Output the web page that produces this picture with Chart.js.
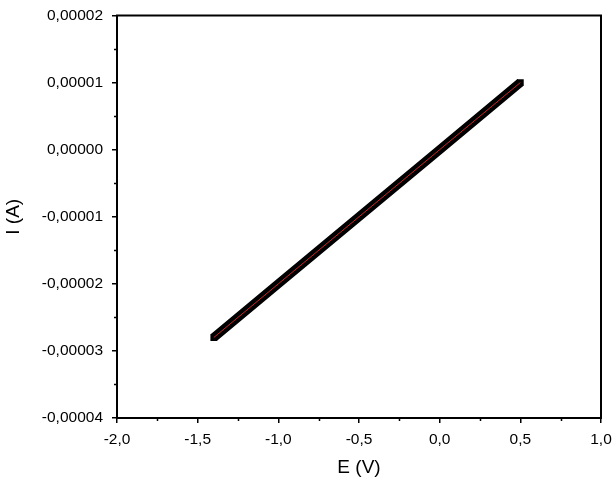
<!DOCTYPE html>
<html>
<head>
<meta charset="utf-8">
<script src="https://cdn.jsdelivr.net/npm/chart.js@4.4.1/dist/chart.umd.min.js"></script>
<style>
  html, body { margin: 0; padding: 0; background: #fff; }
  #wrap { width: 615px; height: 477px; }
</style>
</head>
<body>
<div id="wrap"><canvas id="grafica"></canvas></div>
<script>
// Curva I-E (lectura de la imagen)
const potencial = [-1.4, -1.0, -0.5, 0.0, 0.5]
const corriente = [-0.000028, -0.00002, -0.00001, 0.0, 0.00001]

const xTicks = [-2.0, -1.5, -1.0, -0.5, 0.0, 0.5, 1.0]
const yTicks = [-0.00004, -0.00003, -0.00002, -0.00001, 0.0, 0.00001, 0.00002]

const puntos = potencial.map((e, i) => ({ x: e, y: corriente[i] }))
const coma = (v, d) => v.toFixed(d).replace('.', ',')
const extremo = ctx => (ctx.dataIndex === 0 || ctx.dataIndex === puntos.length - 1) ? 4.8 : 0

// marco y ticks menores
const marco = {
  id: 'marco',
  afterDraw(chart) {
    const ctx = chart.ctx
    const a = chart.chartArea
    const sx = chart.scales.x, sy = chart.scales.y
    ctx.save()
    ctx.strokeStyle = '#000'
    ctx.lineWidth = 1.5
    ctx.beginPath()
    for (let i = 0; i < xTicks.length - 1; i++) {
      const px = Math.round(sx.getPixelForValue((xTicks[i] + xTicks[i + 1]) / 2)) + 0.5
      ctx.moveTo(px, a.bottom); ctx.lineTo(px, a.bottom + 3)
    }
    for (let i = 0; i < yTicks.length - 1; i++) {
      const py = Math.round(sy.getPixelForValue((yTicks[i] + yTicks[i + 1]) / 2)) + 0.5
      ctx.moveTo(a.left, py); ctx.lineTo(a.left - 3, py)
    }
    ctx.stroke()
    ctx.lineWidth = 2
    ctx.strokeRect(a.left, a.top, a.right - a.left, a.bottom - a.top)
    ctx.restore()
  }
}

const graph = document.querySelector('#grafica')

new Chart(graph, {
  type: 'scatter',
  data: {
    datasets: [
      {
        data: puntos,
        order: 0,
        showLine: true,
        borderColor: 'rgb(200,40,40)',
        borderWidth: 1,
        pointRadius: 0
      },
      {
        data: puntos,
        order: 1,
        showLine: true,
        borderColor: '#000',
        backgroundColor: '#000',
        borderWidth: 9,
        pointStyle: 'rect',
        pointBorderWidth: 0,
        pointRadius: extremo,
        pointHoverRadius: extremo
      }
    ]
  },
  options: {
    responsive: true,
    maintainAspectRatio: false,
    animation: false,
    layout: { padding: { top: 15.5, right: 14, left: 0, bottom: 0 } },
    plugins: { legend: { display: false }, tooltip: { enabled: false } },
    scales: {
      x: {
        type: 'linear',
        min: -2.0,
        max: 1.0,
        afterBuildTicks: s => { s.ticks = xTicks.map(v => ({ value: v })) },
        afterFit: s => { s.height = 59; s.paddingLeft = 0; s.paddingRight = 0 },
        grid: { drawOnChartArea: false, tickLength: 5, color: '#000', lineWidth: 1.5 },
        border: { display: true, color: '#000', width: 2 },
        ticks: {
          color: '#000',
          padding: 7,
          font: { family: 'Liberation Sans', size: 15.5 },
          callback: v => coma(v, 1)
        },
        title: {
          display: true,
          text: 'E (V)',
          color: '#000',
          font: { family: 'Liberation Sans', size: 19, lineHeight: 1 },
          padding: { top: 0, bottom: 0 }
        }
      },
      y: {
        type: 'linear',
        min: -0.00004,
        max: 0.00002,
        afterBuildTicks: s => { s.ticks = yTicks.map(v => ({ value: v })) },
        afterFit: s => { s.width = 117; s.paddingTop = 0; s.paddingBottom = 0 },
        grid: { drawOnChartArea: false, tickLength: 5, color: '#000', lineWidth: 1.5 },
        border: { display: true, color: '#000', width: 2 },
        ticks: {
          color: '#000',
          padding: 9,
          font: { family: 'Liberation Sans', size: 15.5 },
          callback: v => coma(v, 5)
        },
        title: {
          display: true,
          text: 'I (A)',
          color: '#000',
          font: { family: 'Liberation Sans', size: 19, lineHeight: 1 },
          padding: { top: 4, bottom: 0 }
        }
      }
    }
  },
  plugins: [marco]
})
</script>
</body>
</html>
